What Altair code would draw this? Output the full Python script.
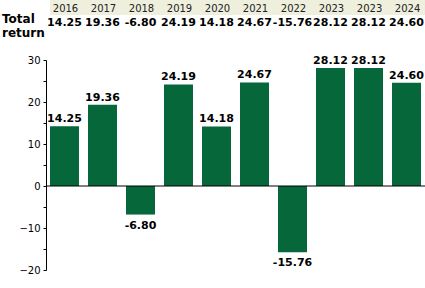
import altair as alt
import pandas as pd

years = ["2016", "2017", "2018", "2019", "2020", "2021", "2022", "2023", "2023", "2024"]
returns = [14.25, 19.36, -6.80, 24.19, 14.18, 24.67, -15.76, 28.12, 28.12, 24.60]
y_ticks = [-20, -10, 0, 10, 20, 30]
y_minor = [-15, -5, 5, 15, 25]

df = pd.DataFrame({
    "idx": list(range(len(years))),
    "year": years,
    "ret": returns,
    "label": [f"{v:.2f}" for v in returns],
})

FONT = "DejaVu Sans"
GREEN = "#05673a"

xs = alt.X("idx:O", axis=None,
           scale=alt.Scale(paddingInner=0.237, paddingOuter=0.105))
yscale = alt.Scale(domain=[-20, 30], nice=False)

base = alt.Chart(df)

header_bg = base.mark_rect(color="#efefdd").encode(
    x=alt.value(4), x2=alt.value(380), y=alt.value(-60), y2=alt.value(-45)
).transform_filter("datum.idx == 0")

years_txt = base.mark_text(font=FONT, fontSize=10, baseline="alphabetic", dx=1,
                           color="#222222").encode(
    x=xs, y=alt.value(-48), text="year:N")

values_txt = base.mark_text(font=FONT, fontSize=11, fontWeight="bold",
                            baseline="alphabetic", color="#000000").encode(
    x=xs, y=alt.value(-34), text="label:N")

total_lbl = base.mark_text(font=FONT, fontSize=12, fontWeight="bold", align="left",
                           baseline="alphabetic", lineHeight=14, color="#000000").encode(
    x=alt.value(-44), y=alt.value(-37),
    text=alt.value(["Total", "return"])
).transform_filter("datum.idx == 0")

minor_axis = base.mark_rule(opacity=0).encode(
    y=alt.Y("ret:Q", scale=yscale,
            axis=alt.Axis(values=y_minor, labels=False, grid=False, domain=False,
                          orient="left", tickColor="#000000", tickSize=3, title=None)))

bars = base.mark_bar(color=GREEN).encode(
    x=xs,
    y=alt.Y("ret:Q", scale=yscale,
            axis=alt.Axis(values=y_ticks, grid=False, title=None, domainColor="#000000",
                          orient="left", tickColor="#000000", tickSize=3, labelFont=FONT,
                          labelFontSize=10, labelColor="#000000", labelPadding=3,
                          format="d")),
    y2=alt.datum(0),
)

zero = base.mark_rule(color="#000000", strokeWidth=1).transform_filter(
    "datum.idx == 0").transform_calculate(zero="0").encode(
    y=alt.Y("zero:Q", scale=yscale, axis=None), x=alt.value(0), x2=alt.value(380))

pos_lbl = base.mark_text(font=FONT, fontSize=11, fontWeight="bold", baseline="alphabetic",
                         dy=-4, color="#000000").encode(
    x=xs, y=alt.Y("ret:Q", scale=yscale, axis=None), text="label:N"
).transform_filter("datum.ret >= 0")

neg_lbl = base.mark_text(font=FONT, fontSize=11, fontWeight="bold", baseline="top",
                         dy=5, color="#000000").encode(
    x=xs, y=alt.Y("ret:Q", scale=yscale, axis=None), text="label:N"
).transform_filter("datum.ret < 0")

chart = alt.layer(header_bg, years_txt, values_txt, total_lbl, minor_axis, bars, zero,
                  pos_lbl, neg_lbl).resolve_axis(y="independent").properties(
    width=379, height=210,
    autosize=alt.AutoSizeParams(type="none"),
    padding={"left": 46, "top": 60, "right": 0, "bottom": 18},
).configure_view(stroke=None).configure_axis(domainColor="#000000").configure_text(font=FONT)

chart.save("out.html", embed_options={"renderer": "svg", "actions": False})
